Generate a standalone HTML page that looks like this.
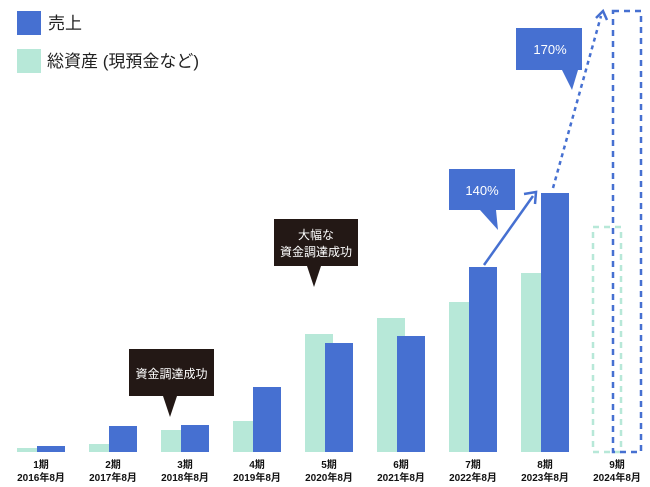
<!DOCTYPE html>
<html><head><meta charset="utf-8"><style>
html,body{margin:0;padding:0;background:#fff;}
svg{display:block;font-family:"Liberation Sans","Noto Sans CJK JP",sans-serif;}
</style></head><body>
<svg width="650" height="487" viewBox="0 0 650 487">
<g>
<rect x="17" y="11" width="24" height="24" fill="#4670d1"/>
<text x="48" y="29" font-size="17" fill="#222">売上</text>
<rect x="17" y="49" width="24" height="24" fill="#b7e8d8"/>
<text x="47" y="67" font-size="17" fill="#222">総資産 (現預金など)</text>
</g>
<g id="bars"></g>
<g id="labels"></g>
<g>
<line x1="484" y1="265" x2="533" y2="196" stroke="#4670d1" stroke-width="2.5"/>
<polyline points="524,194 536,192 535,204" fill="none" stroke="#4670d1" stroke-width="2.5"/>
<line x1="553" y1="188" x2="601" y2="16" stroke="#4670d1" stroke-width="2.5" stroke-dasharray="4,4"/>
<polyline points="596,18 603,11 607,20" fill="none" stroke="#4670d1" stroke-width="2.5"/>
</g>
<g>
<rect x="449" y="169" width="66" height="41" fill="#4670d1"/>
<polygon points="480,210 496,210 498,230" fill="#4670d1"/>
<text x="482" y="195" font-size="13" fill="#fff" text-anchor="middle">140%</text>
</g>
<g>
<rect x="516" y="28" width="66" height="42" fill="#4670d1"/>
<polygon points="562,70 578,70 572,90" fill="#4670d1"/>
<text x="550" y="54" font-size="13" fill="#fff" text-anchor="middle">170%</text>
</g>
<g>
<rect x="129" y="349" width="85" height="47" fill="#231815"/>
<polygon points="163,396 177,396 170,417" fill="#231815"/>
<text x="171.5" y="378" font-size="12" fill="#fff" text-anchor="middle">資金調達成功</text>
</g>
<g>
<rect x="274" y="219" width="84" height="47" fill="#231815"/>
<polygon points="307,266 321,266 314,287" fill="#231815"/>
<text x="316" y="239" font-size="12" fill="#fff" text-anchor="middle">大幅な</text>
<text x="316" y="256" font-size="12" fill="#fff" text-anchor="middle">資金調達成功</text>
</g>
</svg>
<script>
const periods=["1期","2期","3期","4期","5期","6期","7期","8期","9期"];
const dates=["2016年8月","2017年8月","2018年8月","2019年8月","2020年8月","2021年8月","2022年8月","2023年8月","2024年8月"];
const assets=[4,8,22,31,118,134,150,179,225];
const sales=[6,26,27,65,109,116,185,259,441];
const NS="http://www.w3.org/2000/svg";
const base=452,x0=17,pitch=72;
const xs=i=>x0+i*pitch, ys=v=>base-v;
const bars=document.getElementById('bars'),labels=document.getElementById('labels');
function mk(t,a){const e=document.createElementNS(NS,t);for(const k in a)e.setAttribute(k,a[k]);return e;}
periods.forEach((p,i)=>{
  const last=i===periods.length-1;
  let g=mk('rect',{x:xs(i),y:ys(assets[i]),width:28,height:assets[i],fill:last?'none':'#b7e8d8'});
  if(last){g.setAttribute('stroke','#b7e8d8');g.setAttribute('stroke-width','2.5');g.setAttribute('stroke-dasharray','6,5');}
  
  
  bars.appendChild(g);
  let b=mk('rect',{x:xs(i)+20,y:ys(sales[i]),width:28,height:sales[i],fill:last?'none':'#4670d1'});
  if(last){b.setAttribute('stroke','#4670d1');b.setAttribute('stroke-width','2.5');b.setAttribute('stroke-dasharray','6,5');}
  
  
  bars.appendChild(b);
  const cx=xs(i)+24;
  let t1=mk('text',{x:cx,y:468,'font-size':10,'font-weight':'bold','text-anchor':'middle',fill:'#111'});t1.textContent=p;
  
  
  labels.appendChild(t1);
  let t2=mk('text',{x:cx,y:481,'font-size':10,'font-weight':'bold','text-anchor':'middle',fill:'#111'});t2.textContent=dates[i];
  
  
  labels.appendChild(t2);
});
</script>
</body></html>
